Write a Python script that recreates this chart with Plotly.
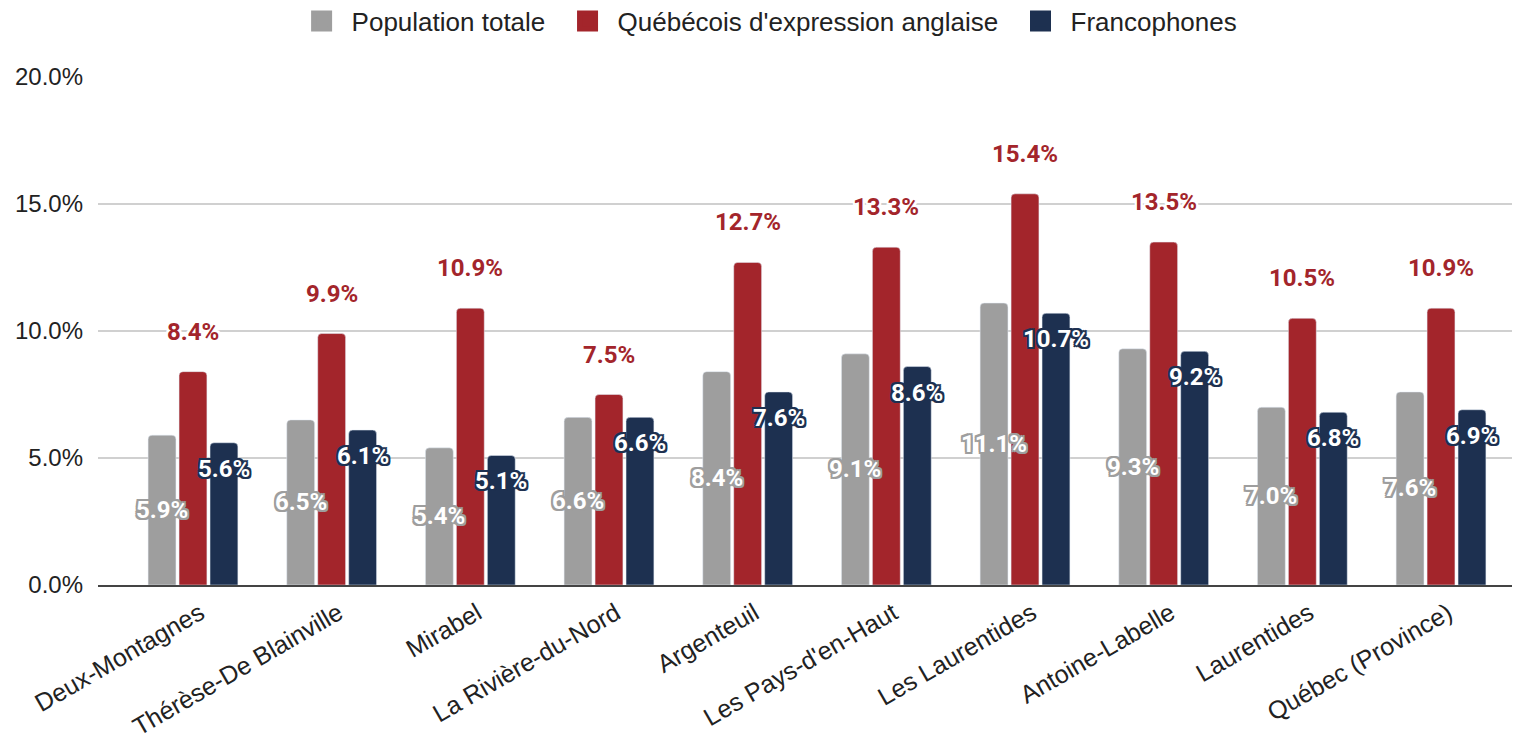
import plotly.graph_objects as go

categories = ["Deux-Montagnes", "Thérèse-De Blainville", "Mirabel", "La Rivière-du-Nord",
              "Argenteuil", "Les Pays-d'en-Haut", "Les Laurentides", "Antoine-Labelle",
              "Laurentides", "Québec (Province)"]
population_totale = [5.9, 6.5, 5.4, 6.6, 8.4, 9.1, 11.1, 9.3, 7.0, 7.6]
anglophones = [8.4, 9.9, 10.9, 7.5, 12.7, 13.3, 15.4, 13.5, 10.5, 10.9]
francophones = [5.6, 6.1, 5.1, 6.6, 7.6, 8.6, 10.7, 9.2, 6.8, 6.9]
series_names = ["Population totale", "Québécois d'expression anglaise", "Francophones"]
y_ticks = [0, 5, 10, 15, 20]

GRAY = "#9e9e9e"
RED = "#a3252b"
NAVY = "#1d3050"
BARGAP = 0.33
LABEL_FONT = "Roboto, Arial, sans-serif"
AXIS_FONT = "Liberation Sans, Arial, sans-serif"
NBSP = "\u00a0"


def outline(color, w=2):
    parts = []
    for dx in (-w, 0, w):
        for dy in (-w, 0, w):
            if dx or dy:
                parts.append(f"{dx}px {dy}px 0 {color}")
    parts.append(f"1px 1px 1px {color}")
    return ", ".join(parts)


def pct(v):
    return f"{v:.1f}%"


fig = go.Figure()
for vals, col in zip([population_totale, anglophones, francophones], [GRAY, RED, NAVY]):
    fig.add_trace(go.Bar(
        x=categories, y=[v / 100 for v in vals], marker_color=col,
        showlegend=False, hoverinfo="skip",
    ))

# legend-only entries with larger square symbols
for name, col in zip(series_names, [GRAY, RED, NAVY]):
    fig.add_trace(go.Scatter(x=[None], y=[None], mode="markers", name=name + NBSP,
                             marker=dict(symbol="square", size=16, color=col,
                                         line=dict(color=col, width=5)),
                             hoverinfo="skip"))

slot = (1 - BARGAP) / 3
annotations = []
for i, v in enumerate(population_totale):
    annotations.append(dict(
        x=i - slot, y=v / 200, xref="x", yref="y", text=pct(v), showarrow=False,
        yanchor="middle",
        font=dict(family=LABEL_FONT, size=24, color="white", weight="bold",
                  shadow=outline(GRAY)),
    ))
for i, v in enumerate(anglophones):
    annotations.append(dict(
        x=i, y=v / 100, xref="x", yref="y", text=pct(v), showarrow=False,
        yshift=40, yanchor="middle",
        font=dict(family=LABEL_FONT, size=24, color=RED, weight="bold",
                  shadow=outline("white")),
    ))
for i, v in enumerate(francophones):
    annotations.append(dict(
        x=i + slot, y=v / 100, xref="x", yref="y", text=pct(v), showarrow=False,
        yshift=-26, yanchor="middle",
        font=dict(family=LABEL_FONT, size=24, color="white", weight="bold",
                  shadow=outline(NAVY)),
    ))

fig.update_layout(
    width=1520, height=738,
    margin=dict(l=90, r=11, t=69, b=161, autoexpand=False),
    paper_bgcolor="white", plot_bgcolor="white",
    barmode="group", bargap=BARGAP, bargroupgap=0.1,
    barcornerradius=4,
    font=dict(family=AXIS_FONT, size=24, color="#222222"),
    legend=dict(orientation="h", x=0.474, xanchor="center", y=1.110, yref="paper",
                yanchor="middle", font=dict(family=AXIS_FONT, size=26, color="#222222"),
                itemwidth=50, itemsizing="trace"),
    annotations=annotations,
    xaxis=dict(range=[-0.685, 9.548], tickangle=-30, showgrid=False, automargin=False,
               showline=True, linecolor="#444444", linewidth=2,
               ticklabelshift=7, ticklabelstandoff=2,
               tickfont=dict(family=AXIS_FONT, size=25, color="#222222")),
    yaxis=dict(range=[0, 0.2], tickvals=[t / 100 for t in y_ticks], tickformat=".1%",
               showgrid=True, gridcolor="#d0d0d0", gridwidth=2, zeroline=False,
               ticklabelstandoff=14, automargin=False,
               tickfont=dict(family=AXIS_FONT, size=24, color="#222222")),
)

fig.write_html("out.html")
